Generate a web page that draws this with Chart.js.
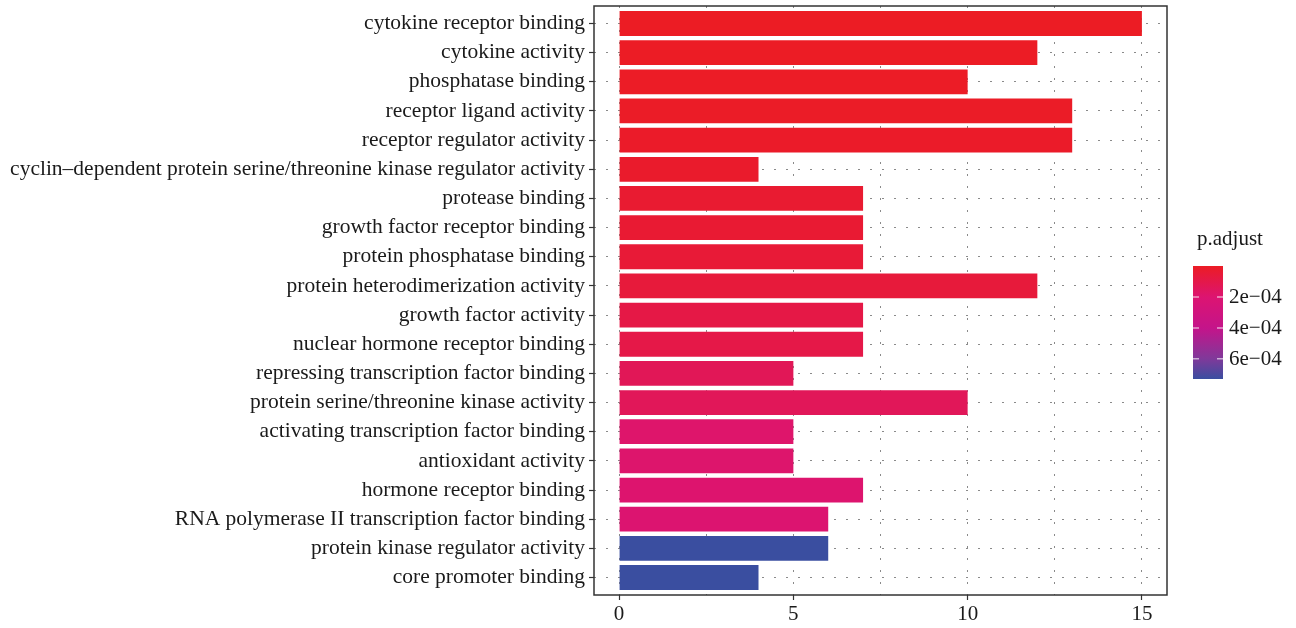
<!DOCTYPE html>
<html><head><meta charset="utf-8">
<script src="https://cdn.jsdelivr.net/npm/chart.js@4/dist/chart.umd.min.js"></script>
<style>html,body{margin:0;padding:0;background:#fff}#wrap{width:1296px;height:628px;position:relative}</style>
</head><body><div id="wrap"><canvas id="c" width="1296" height="628"></canvas></div>
<script>
const categories = [
  'cytokine receptor binding',
  'cytokine activity',
  'phosphatase binding',
  'receptor ligand activity',
  'receptor regulator activity',
  'cyclin\u2013dependent protein serine/threonine kinase regulator activity',
  'protease binding',
  'growth factor receptor binding',
  'protein phosphatase binding',
  'protein heterodimerization activity',
  'growth factor activity',
  'nuclear hormone receptor binding',
  'repressing transcription factor binding',
  'protein serine/threonine kinase activity',
  'activating transcription factor binding',
  'antioxidant activity',
  'hormone receptor binding',
  'RNA polymerase II transcription factor binding',
  'protein kinase regulator activity',
  'core promoter binding'
];
const counts = [15, 12, 10, 13, 13, 4, 7, 7, 7, 12, 7, 7, 5, 10, 5, 5, 7, 6, 6, 4];
const pAdjust = [2e-7, 4e-6, 6e-6, 9e-6, 1.3e-5, 2.2e-5, 3.5e-5, 4e-5, 5e-5, 6e-5, 9e-5, 9.5e-5,
                 1.35e-4, 1.4e-4, 1.85e-4, 1.9e-4, 1.95e-4, 2.0e-4, 7.3e-4, 7.3e-4];
const xTickValues = [0, 2.5, 5, 7.5, 10, 12.5, 15];
const legendTickValues = [2e-4, 4e-4, 6e-4];
const legendTickLabels = ['2e\u221204', '4e\u221204', '6e\u221204'];
const legendTitle = 'p.adjust';
const pRange = [2e-7, 7.3e-4];

const gradientStops = [[0, '#EC1C24'], [0.28, '#DC1472'], [0.55, '#C4148A'], [0.82, '#80399A'], [1, '#3A4EA0']];
const FONT = '"Liberation Serif", "Times New Roman", serif';

function hex2rgb(h){ return [parseInt(h.slice(1,3),16), parseInt(h.slice(3,5),16), parseInt(h.slice(5,7),16)]; }
function colorAt(f){
  f = Math.max(0, Math.min(1, f));
  for (let i = 1; i < gradientStops.length; i++) {
    const [f1, c1] = gradientStops[i-1], [f2, c2] = gradientStops[i];
    if (f <= f2) {
      const t = (f - f1) / (f2 - f1), a = hex2rgb(c1), b = hex2rgb(c2);
      return 'rgb(' + a.map((v, k) => Math.round(v + (b[k] - v) * t)).join(',') + ')';
    }
  }
  return gradientStops[gradientStops.length-1][1];
}
const pFrac = p => (p - pRange[0]) / (pRange[1] - pRange[0]);
const barColors = pAdjust.map(p => colorAt(pFrac(p)));

const frame = {
  id: 'frame',
  afterDatasetsDraw(chart) {
    const a = chart.chartArea, ctx = chart.ctx;
    ctx.save();
    ctx.strokeStyle = '#333333';
    ctx.lineWidth = 1.5;
    ctx.strokeRect(a.left, a.top, a.right - a.left, a.bottom - a.top);
    ctx.restore();
  },
  afterDraw(chart) {
    const ctx = chart.ctx;
    const bx = 1193, by = 266, bw = 30, bh = 113;
    ctx.save();
    ctx.font = '21px ' + FONT;
    ctx.fillStyle = '#1a1a1a';
    ctx.textBaseline = 'alphabetic';
    ctx.textAlign = 'left';
    ctx.fillText(legendTitle, bx + 4, 245);
    const g = ctx.createLinearGradient(0, by, 0, by + bh);
    gradientStops.forEach(([f, c]) => g.addColorStop(f, c));
    ctx.fillStyle = g;
    ctx.fillRect(bx, by, bw, bh);
    ctx.font = '21px ' + FONT;
    ctx.textBaseline = 'middle';
    legendTickValues.forEach((v, i) => {
      const y = by + pFrac(v) * bh;
      ctx.strokeStyle = 'rgba(255,255,255,0.6)';
      ctx.lineWidth = 1.5;
      ctx.beginPath();
      ctx.moveTo(bx, y); ctx.lineTo(bx + 6, y);
      ctx.moveTo(bx + bw - 6, y); ctx.lineTo(bx + bw, y);
      ctx.stroke();
      ctx.fillStyle = '#1a1a1a';
      ctx.fillText(legendTickLabels[i], bx + 36, y + 1);
    });
    ctx.restore();
  }
};

new Chart(document.getElementById('c'), {
  type: 'bar',
  data: {
    datasets: [{
      data: categories.map((c, i) => ({ x: counts[i], y: i })),
      backgroundColor: barColors,
      borderWidth: 0,
      barPercentage: 0.85,
      categoryPercentage: 1
    }]
  },
  options: {
    indexAxis: 'y',
    responsive: false,
    animation: false,
    layout: { padding: { top: 6, right: 129, left: 0, bottom: 0 } },
    plugins: { legend: { display: false }, tooltip: { enabled: false } },
    scales: {
      x: {
        type: 'linear',
        offset: false,
        min: -0.72, max: 15.72,
        afterBuildTicks: s => { s.ticks = xTickValues.map(v => ({ value: v })); },
        afterFit: s => { s.height = 33; s.paddingLeft = 0; s.paddingRight = 0; },
        ticks: {
          autoSkip: false, maxRotation: 0, padding: 2,
          font: { family: FONT, size: 21 }, color: '#1a1a1a',
          callback: v => (v % 5 === 0 ? String(v) : '')
        },
        grid: {
          offset: false,
          color: '#8a8a8a', lineWidth: 1, tickLength: 5, tickWidth: 1.2,
          tickColor: ctx => (ctx.tick && ctx.tick.value % 5 === 0 ? '#333333' : 'rgba(0,0,0,0)')
        },
        border: { display: false, dash: [2, 10], dashOffset: 0 }
      },
      y: {
        type: 'linear',
        offset: false,
        reverse: true,
        min: -0.6, max: 19.6,
        afterBuildTicks: s => { s.ticks = categories.map((c, i) => ({ value: i })); },
        afterFit: s => { s.width = 594; s.paddingTop = 0; s.paddingBottom = 0; },
        ticks: {
          autoSkip: false, padding: 4,
          font: { family: FONT, size: 21.5 }, color: '#1a1a1a',
          callback: v => categories[v]
        },
        grid: { offset: false, color: '#8a8a8a', lineWidth: 1, tickLength: 5, tickWidth: 1.2, tickColor: '#333333' },
        border: { display: false, dash: [2, 10], dashOffset: 0 }
      }
    }
  },
  plugins: [frame]
});
</script></body></html>
